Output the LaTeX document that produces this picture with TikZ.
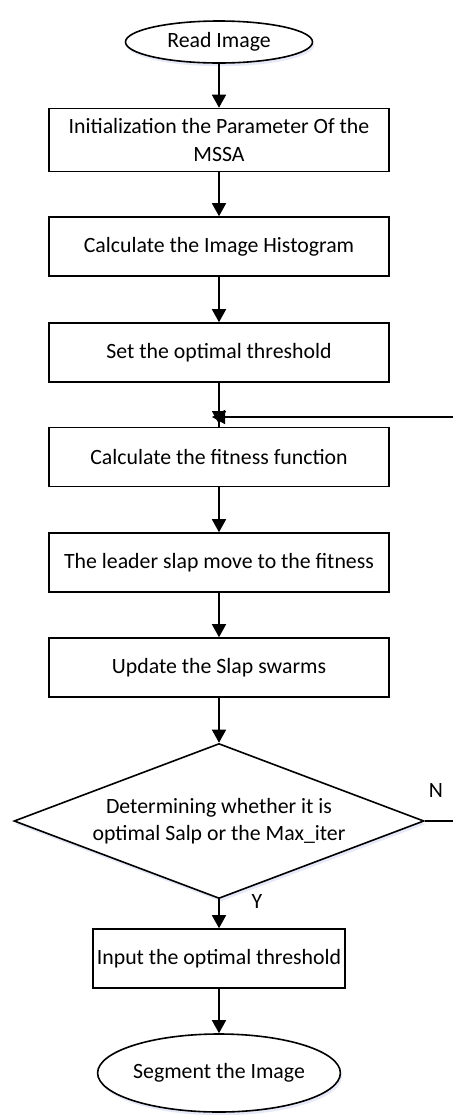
\documentclass[tikz,border=0pt]{standalone}
\usepackage{fontspec}
\setmainfont{Carlito}
\usetikzlibrary{shapes.geometric,arrows.meta,shadows}

\begin{document}
\begin{tikzpicture}[x=0.5pt,y=-0.5pt,font=\fontsize{10.9}{13.5}\selectfont,line width=0.8pt,
  procbox/.style={draw,rectangle,minimum width=170pt,minimum height=29.5pt,align=center,inner sep=2pt},
  endnode/.style={draw,ellipse,inner sep=0pt,fill=white,glow},
  glow/.style={drop shadow={shadow xshift=0.8pt,shadow yshift=-1.6pt,fill=cyan!40!blue!12,opacity=0.8}},
  flow/.style={-{Triangle[length=6.5pt,width=7pt]}}]

\useasboundingbox (0,0) rectangle (453,1115);

\node[endnode,minimum width=93.5pt,minimum height=21pt] (read) at (219,42) {Read Image};
\node[procbox,minimum height=31.5pt] (init) at (219,140) {Initialization the Parameter Of the\\MSSA};
\node[procbox] (hist) at (219,246.5) {Calculate the Image Histogram};
\node[procbox] (thr) at (219,352.5) {Set the optimal threshold};
\coordinate (jn) at (219,417);
\node[procbox] (fit) at (219,457) {Calculate the fitness function};
\node[procbox] (lead) at (219,562.5) {The leader slap move to the fitness};
\node[procbox] (upd) at (219,667.5) {Update the Slap swarms};
\node[draw,diamond,aspect=2.65,inner sep=0pt,minimum width=205pt,minimum height=77.5pt,align=center,fill=white,glow]
  (cond) at (219,821) {Determining whether it is\\optimal Salp or the Max\_iter};
\node[procbox,minimum width=114pt] (inp) at (219,958.5) {Input the optimal threshold};
\node[endnode,minimum width=111pt,minimum height=39pt] (seg) at (219,1073) {Segment the Image};

\draw[flow] (read) -- (init);
\draw[flow] (init) -- (hist);
\draw[flow] (hist) -- (thr);
\draw[flow] (thr) -- ([yshift=-3.5pt]jn);
\draw (jn) -- (fit);
\draw[flow] (fit) -- (lead);
\draw[flow] (lead) -- (upd);
\draw[flow] (upd) -- (cond);
\draw[flow] (cond) -- (inp);
\draw[flow] (inp) -- (seg);
\draw[flow] (cond.east) -- ++(40,0) |- ([xshift=-3.5pt]jn);

\node at (257,901) {Y};
\node at (436,790) {N};

\end{tikzpicture}
\end{document}
